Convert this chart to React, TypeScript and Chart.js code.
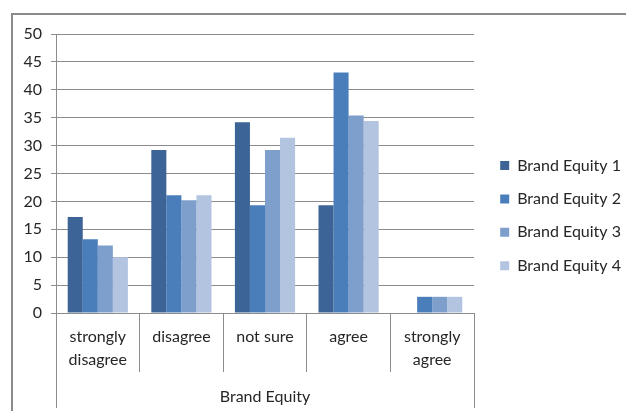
import { useEffect, useRef } from "react";
import { Chart, registerables } from "chart.js";

Chart.register(...registerables);

// Response categories along the horizontal axis
const categories: (string | string[])[] = [
  ["strongly", "disagree"],
  "disagree",
  "not sure",
  "agree",
  ["strongly", "agree"],
];
const groupLabel = "Brand Equity";

const seriesNames = ["Brand Equity 1", "Brand Equity 2", "Brand Equity 3", "Brand Equity 4"];
const equity1 = [17.2, 29.2, 34.2, 19.3, 0];
const equity2 = [13.2, 21.1, 19.3, 43.1, 2.9];
const equity3 = [12.1, 20.2, 29.2, 35.4, 2.9];
const equity4 = [10.0, 21.1, 31.4, 34.4, 2.9];

const yTickValues = [0, 5, 10, 15, 20, 25, 30, 35, 40, 45, 50];

const seriesColors = ["#3D6497", "#4A7EBB", "#7E9ECC", "#B3C4E1"];
const gridColor = "#8C8C8C";
const textColor = "#262626";
const fontFamily = "Lato, 'Liberation Sans', sans-serif";
const fontSize = 16;

const legendBox = 9;
const legendPad = 17.4;
const plotRight = 474;

// Outer frame plus the long separators that close the category group below the axis
const framePlugin = {
  id: "framePlugin",
  beforeDraw(chart: Chart) {
    const { ctx } = chart;
    ctx.save();
    ctx.fillStyle = "#ffffff";
    ctx.fillRect(0, 0, chart.width, chart.height);
    ctx.strokeStyle = "#8A8A8A";
    ctx.lineWidth = 2;
    ctx.beginPath();
    ctx.moveTo(12, chart.height);
    ctx.lineTo(12, 14);
    ctx.lineTo(chart.width, 14);
    ctx.stroke();
    ctx.restore();
  },
  afterDraw(chart: Chart) {
    const { ctx } = chart;
    const x = chart.scales.x;
    const tick = (x.options as any).grid.tickLength as number;
    ctx.save();
    ctx.strokeStyle = gridColor;
    ctx.lineWidth = 1;
    for (const px of [x.left, x.right]) {
      const p = Math.round(px) + 0.5;
      ctx.beginPath();
      ctx.moveTo(p, x.top + tick);
      ctx.lineTo(p, chart.height - 3);
      ctx.stroke();
    }
    ctx.restore();
  },
};

// Places the legend block to the right of the plot
const legendPlacement = {
  id: "legendPlacement",
  afterLayout(chart: Chart) {
    const lg: any = (chart as any).legend;
    if (!lg) return;
    const w = lg.width;
    const h = lg.height;
    lg.left = 482.8;
    lg.right = lg.left + w;
    lg.top = 140.1;
    lg.bottom = lg.top + h;
  },
};

export default function App() {
  const canvasRef = useRef<HTMLCanvasElement | null>(null);

  useEffect(() => {
    if (!canvasRef.current) return;
    const data = [equity1, equity2, equity3, equity4];

    const chart = new Chart(canvasRef.current, {
      type: "bar",
      data: {
        labels: categories,
        datasets: seriesNames.map((name, i) => ({
          label: name,
          data: data[i],
          backgroundColor: seriesColors[i],
          borderWidth: 0,
          categoryPercentage: 0.72,
          barPercentage: 1,
        })),
      },
      options: {
        animation: false,
        responsive: false,
        devicePixelRatio: 1,
        layout: { padding: { top: 34, right: 0, bottom: 0, left: 0 } },
        plugins: {
          tooltip: { enabled: false },
          legend: {
            position: "right",
            align: "start",
            labels: {
              boxWidth: legendBox,
              boxHeight: legendBox,
              padding: legendPad,
              color: textColor,
              font: { family: fontFamily, size: fontSize },
            },
          },
        },
        scales: {
          x: {
            afterFit(scale: any) {
              scale.height = 98;
            },
            grid: {
              offset: true,
              drawOnChartArea: false,
              drawTicks: true,
              tickLength: 59,
              tickColor: gridColor,
              color: gridColor,
            },
            border: { display: true, color: gridColor },
            ticks: {
              padding: -47,
              color: textColor,
              maxRotation: 0,
              autoSkip: false,
              font: { family: fontFamily, size: fontSize, lineHeight: 1.46 },
            },
            title: {
              display: true,
              text: groupLabel,
              color: textColor,
              padding: { top: 0, bottom: 4.7 },
              font: { family: fontFamily, size: fontSize },
            },
          },
          y: {
            min: 0,
            max: 50,
            afterFit(scale: any) {
              scale.width = 56;
            },
            afterBuildTicks(scale: any) {
              scale.ticks = yTickValues.map((v) => ({ value: v }));
            },
            grid: {
              color: gridColor,
              tickColor: gridColor,
              tickLength: 5,
            },
            border: { display: true, color: gridColor },
            ticks: {
              padding: 9,
              color: textColor,
              font: { family: fontFamily, size: fontSize },
            },
          },
        },
      },
      plugins: [framePlugin, legendPlacement],
    });

    // reserve space on the right so the plot ends at plotRight
    const pad = (chart.options.layout as any).padding;
    pad.right = Math.max(0, chart.chartArea.right - plotRight);
    chart.update();

    return () => chart.destroy();
  }, []);

  return (
    <div style={{ position: "fixed", left: 0, top: 0, width: 626, height: 411, background: "#fff" }}>
      <canvas ref={canvasRef} width={626} height={411} />
    </div>
  );
}
